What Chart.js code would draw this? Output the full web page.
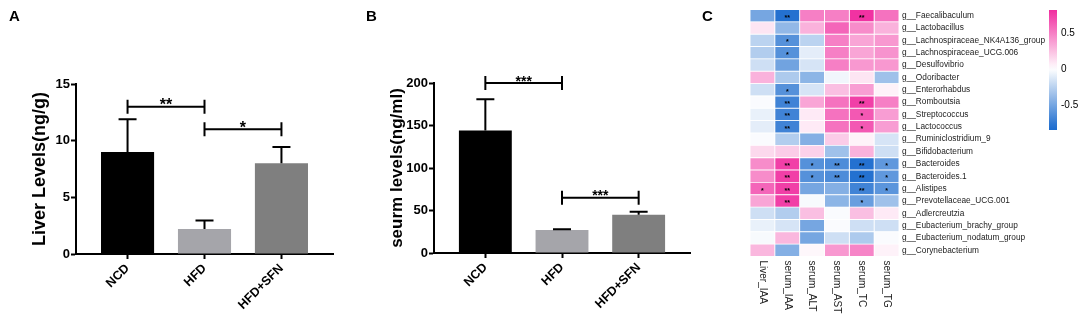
<!DOCTYPE html>
<html><head><meta charset="utf-8">
<script src="https://cdn.jsdelivr.net/npm/chart.js@4"></script>
<style>
body{margin:0;background:#fff;width:1084px;height:320px;position:relative;overflow:hidden;font-family:Arial,"Liberation Sans",sans-serif}
canvas{position:absolute;top:0}
.lbl{position:absolute;font:bold 15px Arial,"Liberation Sans",sans-serif;line-height:15px;color:#000}
</style></head><body>
<canvas id="cA" width="360" height="320" style="left:0"></canvas>
<canvas id="cB" width="360" height="320" style="left:360px"></canvas>
<canvas id="cC" width="364" height="320" style="left:720px"></canvas>
<canvas id="cL" width="44" height="140" style="left:1040px"></canvas>
<div class="lbl" style="left:9px;top:8px">A</div>
<div class="lbl" style="left:366px;top:8px">B</div>
<div class="lbl" style="left:702px;top:8px">C</div>
<script>
// ---------- data ----------
const groups = ['NCD', 'HFD', 'HFD+SFN'];
const liverMean = [9.0, 2.2, 8.0];
const liverSD = [2.9, 0.75, 1.45];
const serumMean = [144, 27, 45];
const serumSD = [37, 1, 3.5];
const barColors = ['#000000', '#a5a5aa', '#7f7f7f'];
const liverTicks = [0, 5, 10, 15];
const serumTicks = [0, 50, 100, 150, 200];
const liverSig = [[0, 1, 13, '**'], [1, 2, 11, '*']];
const serumSig = [[0, 1, 200, '***'], [1, 2, 65, '***']];

const genera = ['g__Faecalibaculum', 'g__Lactobacillus', 'g__Lachnospiraceae_NK4A136_group',
  'g__Lachnospiraceae_UCG.006', 'g__Desulfovibrio', 'g__Odoribacter', 'g__Enterorhabdus',
  'g__Romboutsia', 'g__Streptococcus', 'g__Lactococcus', 'g__Ruminiclostridium_9',
  'g__Bifidobacterium', 'g__Bacteroides', 'g__Bacteroides.1', 'g__Alistipes',
  'g__Prevotellaceae_UCG.001', 'g__Adlercreutzia', 'g__Eubacterium_brachy_group',
  'g__Eubacterium_nodatum_group', 'g__Corynebacterium'];
const metrics = ['Liver_IAA', 'serum_IAA', 'serum_ALT', 'serum_AST', 'serum_TC', 'serum_TG'];
const rLiverIAA = [-0.5, 0.1, -0.25, -0.28, -0.18, 0.3, -0.18, -0.02, -0.08, -0.1, -0.02, 0.15, 0.45, 0.45, 0.6, 0.35, -0.18, -0.08, -0.03, 0.28];
const rSerumIAA = [-0.8, -0.4, -0.62, -0.62, -0.52, -0.3, -0.62, -0.7, -0.7, -0.7, -0.28, 0.2, 0.75, 0.75, 0.75, 0.75, -0.28, -0.15, 0.28, -0.45];
const rSerumALT = [0.5, 0.3, -0.25, -0.1, -0.15, -0.42, -0.15, 0.35, 0.08, 0.08, -0.45, 0.18, -0.62, -0.62, -0.5, -0.03, 0.25, -0.5, -0.5, 0.03];
const rSerumAST = [0.5, 0.6, 0.5, 0.5, 0.5, -0.05, 0.25, 0.55, 0.55, 0.55, 0.2, -0.35, -0.65, -0.65, -0.45, -0.42, -0.02, -0.02, -0.18, 0.4];
const rSerumTC = [0.8, 0.45, 0.35, 0.35, 0.4, 0.1, 0.38, 0.75, 0.65, 0.65, 0.05, 0.3, -0.8, -0.8, -0.7, -0.55, 0.25, -0.18, -0.3, 0.48];
const rSerumTG = [0.55, 0.3, 0.4, 0.42, 0.4, -0.35, 0.05, 0.5, 0.38, 0.38, -0.15, -0.18, -0.58, -0.58, -0.6, -0.35, 0.08, -0.18, -0.02, 0.05];
const sLiverIAA = ['', '', '', '', '', '', '', '', '', '', '', '', '', '', '*', '', '', '', '', ''];
const sSerumIAA = ['**', '', '*', '*', '', '', '*', '**', '**', '**', '', '', '**', '**', '**', '**', '', '', '', ''];
const sSerumALT = ['', '', '', '', '', '', '', '', '', '', '', '', '*', '*', '', '', '', '', '', ''];
const sSerumAST = ['', '', '', '', '', '', '', '', '', '', '', '', '**', '**', '', '', '', '', '', ''];
const sSerumTC = ['**', '', '', '', '', '', '', '**', '*', '*', '', '', '**', '**', '**', '*', '', '', '', ''];
const sSerumTG = ['', '', '', '', '', '', '', '', '', '', '', '', '*', '*', '*', '', '', '', '', ''];
const legendTicks = [-0.5, 0, 0.5];
const legendMin = -0.85, legendMax = 0.82;

// ---------- helpers ----------
const FF = 'Arial, "Liberation Sans", sans-serif';
const PINK = [240, 42, 158], BLUE = [28, 108, 206], CMAX = 0.83;
function corrColor(v) {
  const t = Math.min(1, Math.abs(v) / CMAX);
  const c = v >= 0 ? PINK : BLUE;
  const m = k => Math.round(255 + (c[k] - 255) * t);
  return `rgb(${m(0)},${m(1)},${m(2)})`;
}

function barChart(id, means, sds, ticks, yMax, title, sig, cfg) {
  const annot = {
    id: 'annot',
    afterDatasetsDraw(chart) {
      const { ctx, scales: { x, y } } = chart;
      ctx.save();
      ctx.strokeStyle = '#000';
      ctx.lineWidth = 2;
      means.forEach((m, i) => {
        const px = x.getPixelForValue(i);
        const yt = y.getPixelForValue(m), ye = y.getPixelForValue(m + sds[i]);
        ctx.beginPath();
        ctx.moveTo(px, yt); ctx.lineTo(px, ye);
        ctx.moveTo(px - 9, ye); ctx.lineTo(px + 9, ye);
        ctx.stroke();
      });
      sig.forEach(([a, b, v, t]) => {
        const x1 = x.getPixelForValue(a), x2 = x.getPixelForValue(b), py = y.getPixelForValue(v);
        ctx.beginPath();
        ctx.moveTo(x1, py - 7); ctx.lineTo(x1, py + 7);
        ctx.moveTo(x1, py); ctx.lineTo(x2, py);
        ctx.moveTo(x2, py - 7); ctx.lineTo(x2, py + 7);
        ctx.stroke();
        ctx.fillStyle = '#000';
        ctx.font = `bold ${cfg.star}px ${FF}`;
        ctx.textAlign = 'center';
        ctx.textBaseline = 'alphabetic';
        ctx.fillText(t, (x1 + x2) / 2, py - 3 + 0.4 * cfg.star);
      });
      ctx.restore();
    }
  };
  return new Chart(document.getElementById(id), {
    type: 'bar',
    data: {
      datasets: [{
        data: means.map((m, i) => ({ x: i, y: m })),
        backgroundColor: barColors,
        borderWidth: 0,
        barPercentage: 0.69,
        categoryPercentage: 1
      }]
    },
    options: {
      responsive: false, animation: false, devicePixelRatio: 1,
      layout: { padding: { top: cfg.top, right: cfg.right, left: 0, bottom: 0 } },
      plugins: { legend: { display: false }, tooltip: { enabled: false } },
      scales: {
        x: {
          type: 'linear', min: -0.67, max: 2.67, offset: false,
          afterBuildTicks: s => { s.ticks = groups.map((g, i) => ({ value: i })); },
          afterFit: s => { s.height = 320 - cfg.bottom; },
          grid: { offset: false, drawOnChartArea: false, drawTicks: true, tickLength: 5, tickWidth: 2, tickColor: '#000' },
          border: { display: true, color: '#000', width: 2 },
          ticks: {
            callback: v => groups[v], minRotation: 45, maxRotation: 45, autoSkip: false,
            color: '#000', font: { family: FF, size: 12.5, weight: 'bold' }, padding: 2
          }
        },
        y: {
          min: 0, max: yMax,
          afterBuildTicks: s => { s.ticks = ticks.map(v => ({ value: v })); },
          afterFit: s => { s.width = cfg.left; },
          grid: { drawOnChartArea: false, drawTicks: true, tickLength: 5, tickWidth: 2, tickColor: '#000' },
          border: { display: true, color: '#000', width: 2 },
          ticks: { color: '#000', font: { family: FF, size: 13, weight: 'bold' }, padding: 1 },
          title: {
            display: true, text: title, color: '#000',
            font: { family: FF, size: cfg.titleSize, weight: 'bold' },
            padding: { top: cfg.titlePad, bottom: 0 }
          }
        }
      }
    },
    plugins: [annot]
  });
}

barChart('cA', liverMean, liverSD, liverTicks, 15, 'Liver Levels(ng/g)', liverSig,
  { top: 84, right: 27, left: 76, bottom: 254, titleSize: 18, titlePad: 29, star: 16 });
barChart('cB', serumMean, serumSD, serumTicks, 200, 'seurm levels(ng/ml)', serumSig,
  { top: 83, right: 30, left: 74, bottom: 253, titleSize: 17, titlePad: 27, star: 14 });

// ---------- heatmap ----------
const corrCols = [rLiverIAA, rSerumIAA, rSerumALT, rSerumAST, rSerumTC, rSerumTG];
const starCols = [sLiverIAA, sSerumIAA, sSerumALT, sSerumAST, sSerumTC, sSerumTG];
const heatPlugin = {
  id: 'heatText',
  afterDatasetsDraw(chart) {
    const { ctx, scales: { x, y }, chartArea } = chart;
    ctx.save();
    ctx.fillStyle = '#000';
    ctx.font = `bold 7px ${FF}`;
    ctx.textAlign = 'center';
    ctx.textBaseline = 'alphabetic';
    starCols.forEach((col, j) => {
      col.forEach((s, i) => {
        if (!s) return;
        ctx.fillText(s, x.getPixelForValue(j + 0.5), y.getPixelForValue(i) + 4);
      });
    });
    ctx.fillStyle = '#222';
    ctx.font = `10px ${FF}`;
    ctx.textAlign = 'left';
    ctx.textBaseline = 'middle';
    metrics.forEach((m, j) => {
      ctx.save();
      ctx.translate(x.getPixelForValue(j + 0.5), chartArea.bottom + 4);
      ctx.rotate(Math.PI / 2);
      ctx.fillText(m, 0, 0);
      ctx.restore();
    });
    ctx.restore();
  }
};
new Chart(document.getElementById('cC'), {
  type: 'bar',
  data: {
    labels: genera,
    datasets: corrCols.map((col, j) => ({
      label: metrics[j],
      data: col.map(() => 1),
      backgroundColor: col.map(corrColor),
      borderColor: '#ffffff',
      borderWidth: 0.8,
      borderSkipped: false,
      barPercentage: 1,
      categoryPercentage: 1
    }))
  },
  options: {
    indexAxis: 'y', responsive: false, animation: false, devicePixelRatio: 1,
    layout: { padding: { left: 30, top: 9.5, bottom: 63.5, right: 0 } },
    plugins: { legend: { display: false }, tooltip: { enabled: false } },
    scales: {
      x: { type: 'linear', stacked: true, min: 0, max: 6, display: false },
      y: {
        stacked: true, position: 'right',
        afterFit: s => { s.width = 185; },
        grid: { display: false, drawTicks: false },
        border: { display: false },
        ticks: { color: '#222', font: { family: FF, size: 8.3 }, padding: 3, autoSkip: false }
      }
    }
  },
  plugins: [heatPlugin]
});

// ---------- colour key ----------
new Chart(document.getElementById('cL'), {
  type: 'bar',
  data: {
    labels: [''],
    datasets: [{
      data: [[legendMin, legendMax]],
      backgroundColor: c => {
        const ch = c.chart, ys = ch.scales.y;
        if (!ch.chartArea || !ys) return '#fff';
        const y0 = ys.getPixelForValue(legendMin), y1 = ys.getPixelForValue(legendMax);
        const g = ch.ctx.createLinearGradient(0, y0, 0, y1);
        for (let k = 0; k <= 20; k++) {
          const v = legendMin + (legendMax - legendMin) * k / 20;
          g.addColorStop(k / 20, corrColor(v));
        }
        return g;
      },
      borderWidth: 0, barPercentage: 1, categoryPercentage: 1
    }]
  },
  options: {
    responsive: false, animation: false, devicePixelRatio: 1,
    layout: { padding: { left: 9, top: 9.3, bottom: 7.3, right: 0 } },
    plugins: { legend: { display: false }, tooltip: { enabled: false } },
    scales: {
      x: { display: false },
      y: {
        position: 'right', min: legendMin, max: legendMax,
        afterBuildTicks: s => { s.ticks = legendTicks.map(v => ({ value: v })); },
        afterFit: s => { s.width = 27; },
        grid: { display: false, drawTicks: false },
        border: { display: false },
        ticks: { color: '#000', font: { family: FF, size: 10 }, padding: 4 }
      }
    }
  }
});
</script>
</body></html>
